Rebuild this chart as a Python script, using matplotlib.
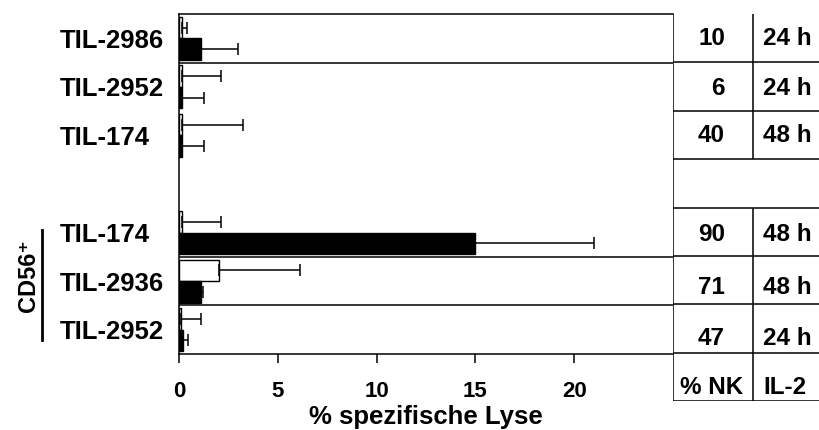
import matplotlib
matplotlib.use("Agg")
import matplotlib.pyplot as plt
from matplotlib.lines import Line2D
import numpy as np

# rows top to bottom, '' = empty spacer row
row_labels = ["TIL-2986", "TIL-2952", "TIL-174", "", "TIL-174", "TIL-2936", "TIL-2952"]
open_vals = [0.15, 0.15, 0.15, None, 0.15, 2.0, 0.1]
open_err = [0.25, 2.0, 3.1, None, 2.0, 4.1, 1.0]
filled_vals = [1.1, 0.15, 0.15, None, 15.0, 1.1, 0.2]
filled_err = [1.9, 1.1, 1.1, None, 6.0, 0.13, 0.25]
nk_pct = ["10", "6", "40", "", "90", "71", "47"]
il2_time = ["24 h", "24 h", "48 h", "", "48 h", "48 h", "24 h"]
x_ticks = [0, 5, 10, 15, 20]

FONT = "Liberation Sans"
plt.rcParams.update({
    "font.family": [FONT, "DejaVu Sans"],
    "font.weight": "bold",
    "axes.linewidth": 1.1,
})

W, H = 820, 430
fig = plt.figure(figsize=(W / 100, H / 100), dpi=100)

# main bar axes
x0, x1, ytop, ybot = 179, 673, 14, 354
ax = fig.add_axes([x0 / W, (H - ybot) / H, (x1 - x0) / W, (ybot - ytop) / H])

idx = [i for i, l in enumerate(row_labels) if l]
ov = np.array([open_vals[i] for i in idx])
oe = np.array([open_err[i] for i in idx])
fv = np.array([filled_vals[i] for i in idx])
fe = np.array([filled_err[i] for i in idx])
pos = np.array(idx, dtype=float)

bh = 0.44
y_open = pos + 0.28
y_fill = pos + 0.72
ax.barh(y_open, ov, height=bh, color="white", edgecolor="black", linewidth=1.0, zorder=2)
ax.barh(y_fill, fv, height=bh, color="black", edgecolor="black", linewidth=1.0, zorder=2)
ax.errorbar(ov, y_open, xerr=[np.zeros_like(oe), oe], fmt="none", ecolor="black",
            elinewidth=1.1, capsize=4, capthick=1.1, zorder=3)
ax.errorbar(fv, y_fill, xerr=[np.zeros_like(fe), fe], fmt="none", ecolor="black",
            elinewidth=1.1, capsize=4, capthick=1.1, zorder=3)

for yl in [1, 5, 6]:
    ax.axhline(yl, color="black", lw=1.1, zorder=1)

ax.set_xlim(0, 25)
ax.set_ylim(7, 0)
ax.set_xticks(x_ticks)
ax.set_xticklabels([str(t) for t in x_ticks], fontsize=16, fontweight="bold")
ax.tick_params(axis="x", direction="out", length=6.5, width=1.1, pad=13)
ax.set_yticks(pos + 0.5)
ax.set_yticklabels([row_labels[i] for i in idx], fontsize=18.5, fontweight="bold")
ax.tick_params(axis="y", length=0, pad=(x0 - 60) * 0.72)
for t in ax.get_yticklabels():
    t.set_horizontalalignment("left")
ax.spines["right"].set_visible(False)
ax.set_xlabel("% spezifische Lyse", fontsize=18.5, fontweight="bold", labelpad=2)

# table on the right
tx0, tbot = 673, 401
tax = fig.add_axes([tx0 / W, (H - tbot) / H, (W - tx0) / W, (tbot - ytop) / H])
tax.set_xlim(0, W - tx0)
tax.set_ylim(8, 0)
tax.axis("off")
mid = 80
lk = dict(color="black", lw=1.1, solid_capstyle="butt")
tax.plot([0, 0], [0, 8], **lk)
tax.plot([mid, mid], [0, 3], **lk)
tax.plot([mid, mid], [4, 8], **lk)
for r in range(1, 9):
    tax.plot([0, W - tx0], [r, r], **lk)

dy = [0.0, 0.03, 0.02, 0, 0.05, 0.15, 0.2]
for i, (nk, il) in enumerate(zip(nk_pct, il2_time)):
    if not nk:
        continue
    tax.text(52, i + 0.5 + dy[i], nk, ha="right", va="center", fontsize=17.5, fontweight="bold")
    tax.text(90, i + 0.5 + dy[i], il, ha="left", va="center", fontsize=17.5, fontweight="bold")
tax.text(39, 7.72, "% NK", ha="center", va="center", fontsize=17.5, fontweight="bold")
tax.text(90, 7.72, "IL-2", ha="left", va="center", fontsize=17.5, fontweight="bold")

# CD56+ group bracket
fig.add_artist(Line2D([42 / W, 42 / W], [(H - 230) / H, (H - 340) / H],
                      transform=fig.transFigure, color="black", lw=2))
fig.text(28 / W, (H - 276) / H, "CD56⁺", rotation=90, ha="center", va="center",
         fontsize=17, fontweight="bold")

fig.savefig("out.png", dpi=100)
